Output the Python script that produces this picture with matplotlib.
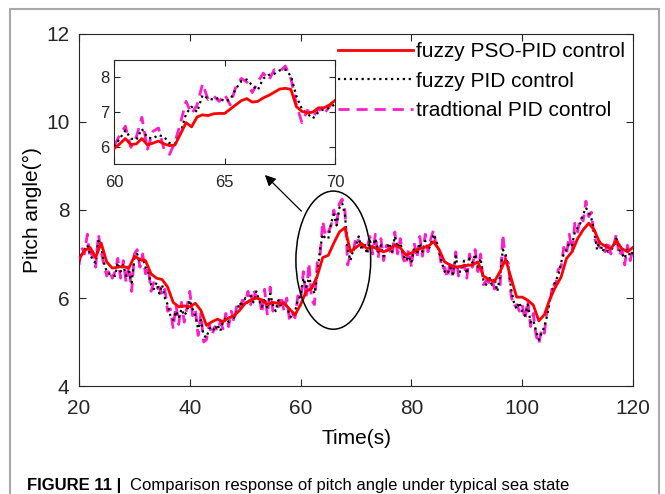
import matplotlib
matplotlib.use("Agg")
import matplotlib.pyplot as plt
import numpy as np
from matplotlib.patches import Ellipse, Rectangle

plt.rcParams['font.family'] = ['Liberation Sans', 'DejaVu Sans']

# main curves
t_pso = np.arange(20, 121, 1.0)
pso = [6.88, 7.08, 7.15, 6.92, 7.25, 6.82, 6.68, 6.70, 6.72, 6.68,
       6.95, 6.88, 6.85, 6.55, 6.45, 6.42, 6.25, 5.90, 5.80, 5.82,
       5.80, 5.88, 5.72, 5.38, 5.46, 5.52, 5.46, 5.55, 5.60, 5.72,
       5.88, 5.95, 6.00, 5.96, 5.85, 5.90, 5.88, 5.88, 5.75, 5.62,
       5.85, 6.15, 6.22, 6.50, 6.92, 6.97, 7.25, 7.50, 7.60, 7.05,
       7.15, 7.24, 7.12, 7.17, 7.10, 7.05, 7.10, 7.20, 7.14, 6.98,
       7.02, 7.10, 7.14, 7.17, 7.28, 7.10, 6.82, 6.75, 6.70, 6.72,
       6.74, 6.75, 6.82, 6.50, 6.42, 6.38, 6.60, 6.88, 6.45, 6.02,
       6.02, 5.95, 5.84, 5.48, 5.62, 5.98, 6.25, 6.47, 6.90, 7.05,
       7.35, 7.55, 7.70, 7.55, 7.25, 7.18, 7.12, 7.30, 7.12, 7.05, 7.15]

t_half = np.arange(20, 120.01, 0.5)
fpid = [6.85, 7.00, 7.10, 7.20, 7.00, 6.85, 6.80, 7.30, 7.20, 6.80, 6.60, 6.55, 6.55, 6.50, 6.80, 6.60, 6.75, 6.50, 6.60, 6.35,
        6.90, 7.00, 6.80, 6.90, 6.70, 6.60, 6.30, 6.20, 6.35, 6.10, 6.30, 6.00, 5.85, 5.60, 5.50, 5.70, 5.55, 5.75, 5.60, 5.70,
        5.95, 5.75, 5.60, 5.30, 5.50, 5.15, 5.10, 5.30, 5.35, 5.25, 5.40, 5.25, 5.45, 5.55, 5.45, 5.60, 5.55, 5.70, 5.90, 5.80,
        6.00, 5.85, 6.05, 5.90, 6.15, 5.95, 5.80, 6.00, 5.75, 6.10, 5.85, 5.70, 5.95, 5.80, 5.90, 5.85, 5.60, 5.55, 5.70, 5.95,
        6.05, 6.45, 6.25, 6.45, 6.30, 6.10, 6.50, 7.10, 7.45, 7.35, 7.35, 7.70, 7.90, 7.65, 8.05, 8.15, 7.90, 7.10, 6.85, 7.10,
        7.20, 7.40, 7.10, 7.25, 7.00, 7.30, 7.15, 7.35, 7.05, 7.20, 6.95, 7.10, 7.25, 7.05, 7.40, 7.15, 7.25, 7.00, 6.85, 6.95,
        6.80, 7.15, 7.00, 7.25, 7.05, 7.30, 7.10, 7.20, 7.45, 7.30, 7.05, 6.80, 6.60, 6.55, 6.70, 6.55, 6.95, 6.60, 6.60, 6.85,
        6.55, 6.90, 6.80, 7.00, 6.70, 6.90, 6.40, 6.30, 6.50, 6.30, 6.45, 6.15, 6.50, 7.10, 7.00, 6.70, 6.20, 5.90, 5.75, 5.90,
        5.70, 5.60, 5.85, 5.45, 5.50, 5.25, 5.05, 5.20, 5.35, 5.60, 5.95, 6.20, 6.40, 6.50, 6.80, 7.00, 7.10, 7.25, 7.20, 7.50,
        7.60, 7.70, 7.90, 8.05, 7.95, 7.80, 7.50, 7.10, 7.30, 7.05, 7.20, 7.05, 7.10, 7.15, 7.35, 7.10, 7.00, 6.90, 7.10, 6.95,
        7.05]
tpid = [6.75, 7.15, 7.00, 7.45, 6.90, 7.05, 6.70, 7.45, 7.05, 6.75, 6.50, 6.65, 6.45, 6.60, 6.90, 6.45, 6.85, 6.35, 6.75, 6.15,
        7.00, 7.10, 6.70, 7.00, 6.55, 6.70, 6.15, 6.35, 6.20, 6.25, 6.05, 6.20, 5.70, 5.75, 5.30, 5.85, 5.40, 5.90, 5.45, 5.80,
        6.15, 5.60, 5.75, 5.15, 5.65, 5.00, 5.05, 5.40, 5.15, 5.35, 5.25, 5.45, 5.30, 5.65, 5.35, 5.70, 5.45, 5.85, 5.75, 5.95,
        5.90, 6.15, 5.85, 6.20, 6.00, 6.10, 5.65, 6.20, 5.60, 6.25, 5.70, 5.85, 5.80, 6.05, 5.70, 6.00, 5.50, 5.65, 5.55, 6.05,
        5.95, 6.60, 6.00, 6.80, 5.95, 5.85, 6.80, 6.95, 7.75, 7.40, 7.50, 7.65, 8.00, 7.70, 8.15, 8.25, 8.00, 6.75, 7.00, 7.05,
        7.40, 7.30, 7.20, 7.10, 7.15, 7.40, 7.00, 7.45, 6.90, 7.35, 6.85, 7.20, 7.10, 6.95, 7.50, 7.00, 7.35, 6.90, 6.75, 7.10,
        6.70, 7.25, 6.90, 7.40, 6.95, 7.45, 7.05, 7.35, 7.55, 7.15, 7.10, 6.65, 6.70, 6.45, 6.85, 6.45, 7.05, 6.50, 6.70, 6.75,
        6.45, 7.00, 6.70, 7.10, 6.60, 7.00, 6.30, 6.40, 6.35, 6.45, 6.20, 6.30, 6.25, 7.45, 6.85, 6.80, 6.05, 5.80, 5.85, 5.70,
        5.85, 5.50, 5.95, 5.35, 5.65, 5.15, 4.95, 5.30, 5.20, 5.75, 5.85, 6.35, 6.25, 6.65, 6.70, 7.15, 7.00, 7.45, 7.05, 7.70,
        7.50, 7.85, 7.75, 8.20, 7.85, 7.95, 7.35, 7.25, 7.15, 7.20, 7.05, 7.30, 7.00, 7.20, 7.45, 6.95, 7.10, 6.75, 7.20, 6.85,
        7.15]

# zoomed window 60-70 s (inset)
t_zoom = np.arange(60, 70.01, 0.25)
pso_zoom = [5.97, 6.10, 6.25, 6.08, 6.10, 6.25, 6.07, 6.12, 6.18, 6.10, 6.05, 6.07, 6.38, 6.70, 6.58, 6.86,
            6.92, 6.90, 6.95, 6.96, 6.96, 7.08, 7.20, 7.32, 7.38, 7.28, 7.30, 7.40, 7.47, 7.56, 7.65, 7.67,
            7.64, 7.15, 7.02, 6.97, 7.00, 7.12, 7.12, 7.20, 7.33]
fpid_zoom = [6.02, 6.25, 6.48, 6.25, 6.22, 6.52, 6.28, 6.25, 6.35, 6.30, 6.12, 6.10, 6.40, 6.95, 7.15, 7.00,
             7.48, 7.38, 7.35, 7.40, 7.30, 7.35, 7.65, 7.87, 7.92, 7.75, 7.62, 7.95, 8.05, 8.08, 8.18, 8.20,
             8.02, 7.45, 7.08, 6.95, 6.82, 7.00, 7.08, 7.12, 7.22]
tpid_zoom = [6.05, 6.35, 6.60, 6.00, 6.30, 6.85, 5.95, 6.45, 6.55, 5.95, 5.80, 6.15, 6.70, 7.30, 6.95, 7.20,
             7.80, 7.35, 7.45, 7.30, 7.50, 7.20, 7.70, 7.95, 7.85, 7.55, 7.85, 8.10, 7.90, 8.20, 8.15, 8.30,
             7.95, 7.20, 6.70, 7.05, 6.85, 7.10, 6.95, 7.15, 7.40]

labels = ['fuzzy PSO-PID control', 'fuzzy PID control', 'tradtional PID control']
red = '#ff0000'
pink = '#ff1ccd'
dash = (0, (4, 2.5))

fig = plt.figure(figsize=(6.65, 4.94), dpi=100)
ax = fig.add_axes([0.1188, 0.2186, 0.8331, 0.7126])

ax.plot(t_pso, pso, color=red, lw=2, label=labels[0], zorder=4)
ax.plot(t_half, fpid, color='k', ls=':', lw=1.6, label=labels[1], zorder=3)
ax.plot(t_half, tpid, color=pink, ls=dash, lw=2, label=labels[2], zorder=2)

ax.set_xlim(20, 120)
ax.set_ylim(4, 12)
ax.set_xticks([20, 40, 60, 80, 100, 120])
ax.set_yticks([4, 6, 8, 10, 12])
ax.tick_params(direction='in', top=True, right=True, labelsize=15, length=5, pad=7, colors='#262626')
ax.tick_params(axis='x', pad=9)
for s in ax.spines.values():
    s.set_color('#262626')
ax.set_xlabel('Time(s)', fontsize=15, labelpad=8)
ax.set_ylabel('Pitch angle(°)', fontsize=15, labelpad=3)

ax.legend(loc='upper right', bbox_to_anchor=(1.008, 1.012), frameon=False, fontsize=15,
          handlelength=3.6, handletextpad=0.15, labelspacing=0.5, borderaxespad=0.2)

ax.add_patch(Ellipse((65.9, 6.86), 13.5, 3.14, fill=False, edgecolor='k', lw=1.1, zorder=5))
ax.annotate('', xy=(53.2, 8.84), xytext=(60.5, 7.93),
            arrowprops=dict(arrowstyle='-|>', color='k', lw=0.9, mutation_scale=16))

ins = fig.add_axes([0.1719, 0.668, 0.3319, 0.2105])
ins.plot(t_zoom, pso_zoom, color=red, lw=2, zorder=4)
ins.plot(t_zoom, fpid_zoom, color='k', ls=':', lw=1.6, zorder=3)
ins.plot(t_zoom, tpid_zoom, color=pink, ls=dash, lw=2, zorder=2)
ins.set_xlim(60, 70)
ins.set_ylim(5.53, 8.47)
ins.set_xticks([60, 65, 70])
ins.set_yticks([6, 7, 8])
ins.tick_params(direction='in', top=True, right=True, labelsize=12, length=4, colors='#262626')
ins.tick_params(axis='x', pad=8)
for s in ins.spines.values():
    s.set_color('#262626')

# page frame and caption at the bottom edge
fig.patches.append(Rectangle((9.5 / 665, -0.1), 649.5 / 665, 1.1 - 9.5 / 494, transform=fig.transFigure,
                             fill=False, edgecolor='#a8a8a8', lw=1.5))
fig.text(27 / 665, 1 - 478 / 494, 'FIGURE 11 |', fontsize=12, fontweight='bold', va='top')
fig.text(130 / 665, 1 - 478 / 494, 'Comparison response of pitch angle under typical sea state',
         fontsize=12, va='top')

fig.savefig('out.png', dpi=100)
